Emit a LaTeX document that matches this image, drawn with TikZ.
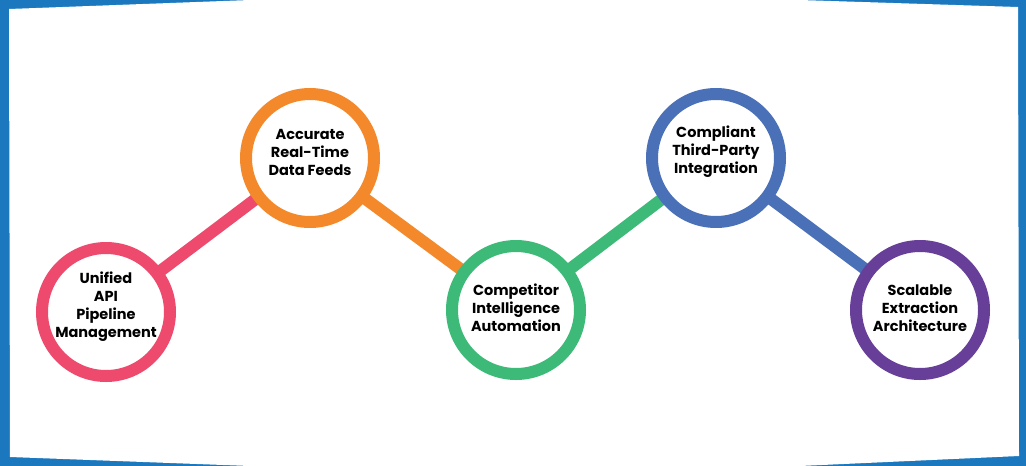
\documentclass[tikz,border=0pt]{standalone}
\usepackage{fontspec}
\setmainfont{Poppins}
\usetikzlibrary{calc}
\definecolor{frameblue}{HTML}{1B78BE}
\definecolor{cpink}{HTML}{EE4A6E}
\definecolor{corange}{HTML}{F3892A}
\definecolor{cgreen}{HTML}{3DBA78}
\definecolor{cblue}{HTML}{4A70B7}
\definecolor{cpurple}{HTML}{673F99}
\begin{document}
\begin{tikzpicture}[x=1pt,y=-1pt,
  ring/.style={circle,draw=#1,line width=12pt,fill=white,minimum size=128pt,inner sep=0pt},
  link/.style={draw=#1,line width=12pt},
  lbl/.style={font=\bfseries\fontsize{14.5}{18}\selectfont,align=center,text=black,inner sep=0pt}]
\fill[frameblue] (0,0) rectangle (1026,466);
\useasboundingbox (0,0) rectangle (1026,466);
\fill[white] (9,9) -- (250,0) -- (800,0) -- (1018,7) -- (1019,456) -- (800,466) -- (250,466) -- (10,457) -- cycle;
\coordinate (p1) at (106,312);
\coordinate (p2) at (310,158);
\coordinate (p3) at (516,310);
\coordinate (p4) at (716,158);
\coordinate (p5) at (920,310);
\draw[link=cpink] (p1) -- (p2);
\draw[link=corange] (p2) -- (p3);
\draw[link=cgreen] (p3) -- (p4);
\draw[link=cblue] (p4) -- (p5);
\node[ring=cpink] (c1) at (p1) {};
\node[ring=corange] (c2) at (p2) {};
\node[ring=cgreen] (c3) at (p3) {};
\node[ring=cblue] (c4) at (p4) {};
\node[ring=cpurple] (c5) at (p5) {};
\node[lbl] (t1) at (106,307) {Unified\\API\\Pipeline\\Management};
\node[lbl] (t2) at (310,152) {Accurate\\Real-Time\\Data Feeds};
\node[lbl] (t3) at (516,308) {Competitor\\Intelligence\\Automation};
\node[lbl] (t4) at (716,152) {Compliant\\Third-Party\\Integration};
\node[lbl] (t5) at (920,308) {Scalable\\Extraction\\Architecture};
\end{tikzpicture}
\end{document}
